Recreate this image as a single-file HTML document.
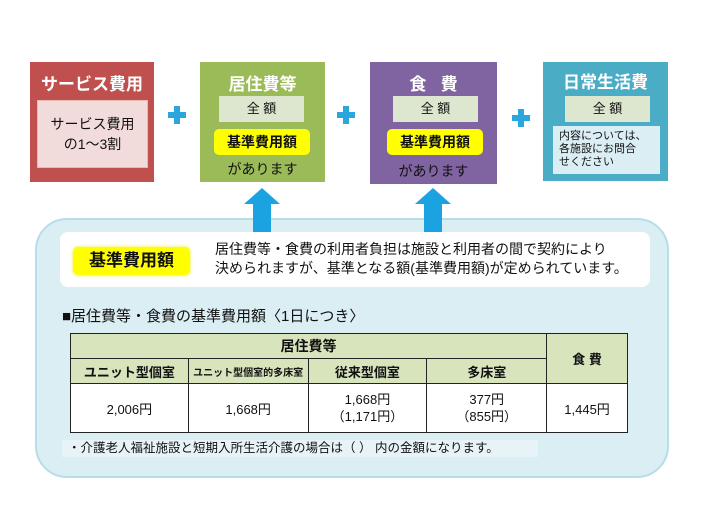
<!DOCTYPE html>
<html><head><meta charset="utf-8"><style>
*{margin:0;padding:0;box-sizing:border-box}
body{width:725px;height:511px;background:#fff;position:relative;overflow:hidden;font-family:"Liberation Sans","Noto Sans CJK JP",sans-serif;color:#111}
.a{position:absolute}
.box{position:absolute;text-align:center}
.ttl{color:#fff;font-weight:bold;font-size:17px;position:absolute;left:0;right:0}
.zen{position:absolute;background:#dde6cf;font-size:13px;text-align:center;line-height:26px}
.yel{position:absolute;background:#ffff00;border-radius:5px;font-size:14px;font-weight:bold;text-align:center;line-height:26px}
.ari{position:absolute;left:0;right:0;font-size:14px;text-align:center}
.plus{position:absolute;width:18px;height:18px}
.plus:before{content:"";position:absolute;left:6px;top:0;width:6px;height:18px;background:#2aa6dc}
.plus:after{content:"";position:absolute;left:0;top:6px;width:18px;height:6px;background:#2aa6dc}
table{position:absolute;left:70px;top:333px;width:558px;border-collapse:collapse;font-size:13px}
td{border:1.5px solid #222;text-align:center;padding:0}
.h{background:#d8e4bc;font-weight:bold}
</style></head><body>
<div class="box" style="left:30px;top:62px;width:124px;height:120px;background:#c0504d">
<div class="ttl" style="top:8px">サービス費用</div>
<div class="a" style="left:7px;top:38px;width:111px;height:68px;background:#f2dcdb;border:1px solid #e6b9b8;font-size:14px;line-height:20px;padding-top:13px">サービス費用<br>の1〜3割</div>
</div>
<div class="plus" style="left:168px;top:106px"></div>
<div class="box" style="left:200px;top:62px;width:125px;height:120px;background:#9bbb59">
<div class="ttl" style="top:8px">居住費等</div>
<div class="zen" style="left:19px;top:34px;width:85px;height:26px">全 額</div>
<div class="yel" style="left:14px;top:67px;width:96px;height:26px">基準費用額</div>
<div class="ari" style="top:97px">があります</div>
</div>
<div class="plus" style="left:337px;top:106px"></div>
<div class="box" style="left:370px;top:62px;width:127px;height:122px;background:#8064a2">
<div class="ttl" style="top:8px">食&nbsp;&nbsp;&nbsp;費</div>
<div class="zen" style="left:23px;top:34px;width:85px;height:26px">全 額</div>
<div class="yel" style="left:17px;top:67px;width:96px;height:26px">基準費用額</div>
<div class="ari" style="top:99px">があります</div>
</div>
<div class="plus" style="left:512px;top:109px"></div>
<div class="box" style="left:543px;top:62px;width:125px;height:119px;background:#4bacc6">
<div class="ttl" style="top:6px">日常生活費</div>
<div class="zen" style="left:22px;top:34px;width:85px;height:26px">全 額</div>
<div class="a" style="left:10px;top:64px;width:107px;height:48px;background:#dbeef4;font-size:11px;line-height:13px;text-align:left;padding:4px 0 0 6px">内容については、<br>各施設にお問合<br>せください</div>
</div>
<div class="a" style="left:35px;top:218px;width:634px;height:260px;background:#dbeef4;border:2px solid #b7dde8;border-radius:32px"></div>
<svg class="a" style="left:0;top:0" width="725" height="511">
<polygon points="262,188 280,204 271,204 271,233 253,233 253,204 244,204" fill="#1aa3e0"/>
<polygon points="433,188 451,204 442,204 442,233 424,233 424,204 415,204" fill="#1aa3e0"/>
</svg>
<div class="a" style="left:60px;top:232px;width:590px;height:55px;background:#fff;border-radius:8px"></div>
<div class="a" style="left:73px;top:247px;width:117px;height:28px;background:#ffff00;border-radius:5px;font-size:17px;font-weight:bold;text-align:center;line-height:28px;box-shadow:0 0 3px #ee0">基準費用額</div>
<div class="a" style="left:215px;top:240px;font-size:14px;line-height:19px;white-space:nowrap">居住費等・食費の利用者負担は施設と利用者の間で契約により<br>決められますが、基準となる額(基準費用額)が定められています。</div>
<div class="a" style="left:62px;top:305px;font-size:15px">■居住費等・食費の基準費用額〈1日につき〉</div>
<table>
<tr style="height:25px"><td class="h" colspan="4" style="font-size:14px">居住費等</td><td class="h" rowspan="2" style="font-size:13px;width:81px">食 費</td></tr>
<tr style="height:25px"><td class="h" style="width:118px;font-size:13px">ユニット型個室</td><td class="h" style="width:120px;font-size:10px">ユニット型個室的多床室</td><td class="h" style="width:119px">従来型個室</td><td class="h" style="width:120px">多床室</td></tr>
<tr style="height:49px;background:#fff"><td>2,006円</td><td>1,668円</td><td style="line-height:17px">1,668円<br>（1,171円）</td><td style="line-height:17px">377円<br>（855円）</td><td>1,445円</td></tr>
</table>
<div class="a" style="left:62px;top:440px;width:476px;height:17px;background:#e8f3f7;font-size:12.5px;line-height:17px;padding-left:6px">・介護老人福祉施設と短期入所生活介護の場合は（ ） 内の金額になります。</div>
</body></html>
